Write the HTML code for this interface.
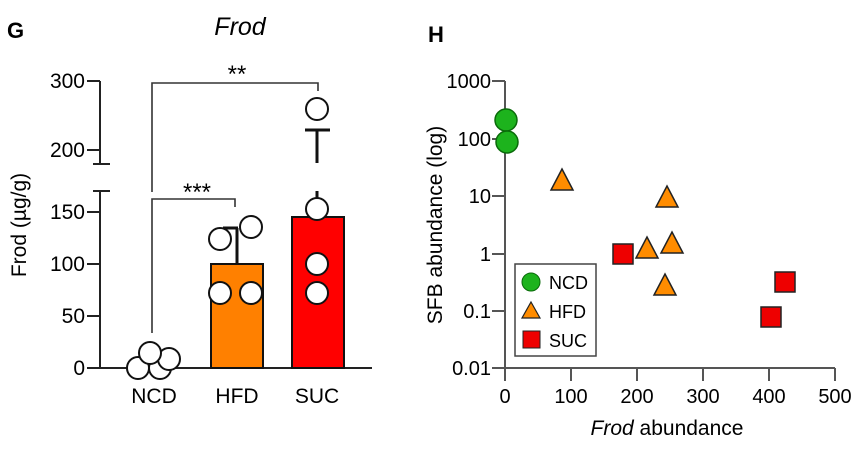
<!DOCTYPE html>
<html><head><meta charset="utf-8"><style>
html,body{margin:0;padding:0;background:#fff;}
svg{display:block;font-family:"Liberation Sans",Arial,sans-serif;}
</style></head><body>
<svg width="864" height="449" viewBox="0 0 864 449" xmlns="http://www.w3.org/2000/svg">
<!-- Panel G -->
<text x="7" y="38" font-size="22" font-weight="bold">G</text>
<text x="240" y="35" font-size="25" font-style="italic" text-anchor="middle">Frod</text>
<text transform="translate(26,225) rotate(-90)" font-size="21" text-anchor="middle">Frod (µg/g)</text>
<g stroke="#222" stroke-width="2" fill="none">
<path d="M100 81V164M100 191V368M100 368H372"/>
<path d="M87 81H100M87 150H100M87 212H100M87 264H100M87 316H100M87 368H100"/>
<path d="M93 164H110M93 191H110"/>
</g>
<g font-size="21" text-anchor="end">
<text x="85" y="88">300</text><text x="85" y="157">200</text><text x="85" y="219">150</text>
<text x="85" y="271">100</text><text x="85" y="323">50</text><text x="85" y="375">0</text>
</g>
<g font-size="21" text-anchor="middle">
<text x="154" y="403">NCD</text><text x="237" y="403">HFD</text><text x="317" y="403">SUC</text>
</g>
<rect x="211" y="264" width="52" height="104" fill="#ff8000" stroke="#111" stroke-width="2"/>
<rect x="292" y="217" width="52" height="151" fill="#ff0000" stroke="#111" stroke-width="2"/>
<g stroke="#111" stroke-width="3" fill="none">
<path d="M237 264V228M223 228H238"/>
<path d="M317 217V191M317 163V130M305 130H330"/>
</g>
<g stroke="#333" stroke-width="1.6" fill="none">
<path d="M152 192V83H318V91"/>
<path d="M152 333V199H235V207"/>
</g>
<text x="237" y="82" font-size="24" text-anchor="middle">**</text>
<text x="197" y="200" font-size="24" text-anchor="middle">***</text>
<g fill="#fff" stroke="#111" stroke-width="2">
<circle cx="138" cy="368" r="11"/><circle cx="160" cy="368" r="11"/><circle cx="169" cy="359" r="11"/><circle cx="150" cy="353" r="11"/>
<circle cx="220" cy="239" r="11"/><circle cx="251" cy="227" r="11"/><circle cx="220" cy="293" r="11"/><circle cx="251" cy="293" r="11"/>
<circle cx="317" cy="109" r="11"/><circle cx="317" cy="209" r="11"/><circle cx="317" cy="264" r="11"/><circle cx="317" cy="293" r="11"/>
</g>
<!-- Panel H -->
<text x="428" y="42" font-size="22" font-weight="bold">H</text>
<text transform="translate(442,225) rotate(-90)" font-size="21" text-anchor="middle">SFB abundance (log)</text>
<g stroke="#555" stroke-width="2" fill="none">
<path d="M505 81V368H835"/>
<path d="M492 81H505M492 139H505M492 196H505M492 254H505M492 311H505M492 368H505"/>
<path d="M505 368V381M571 368V381M637 368V381M703 368V381M769 368V381M835 368V381"/>
</g>
<g font-size="20" text-anchor="end">
<text x="491" y="88">1000</text><text x="491" y="146">100</text><text x="491" y="203">10</text>
<text x="491" y="261">1</text><text x="491" y="318">0.1</text><text x="491" y="375">0.01</text>
</g>
<g font-size="20" text-anchor="middle">
<text x="505" y="403">0</text><text x="571" y="403">100</text><text x="637" y="403">200</text>
<text x="703" y="403">300</text><text x="769" y="403">400</text><text x="835" y="403">500</text>
</g>
<text x="667" y="435" font-size="21" text-anchor="middle"><tspan font-style="italic">Frod</tspan> abundance</text>
<g fill="#1db31d" stroke="#0a6a0a" stroke-width="1.5">
<circle cx="506" cy="120" r="11"/><circle cx="507" cy="142" r="11"/>
</g>
<g fill="#ff8c00" stroke="#222" stroke-width="1.5">
<path d="M562 169L573 190H551Z"/><path d="M667 186L678 207H656Z"/>
<path d="M647 237L658 258H636Z"/><path d="M672 232L683 253H661Z"/><path d="M665 274L676 295H654Z"/>
</g>
<g fill="#ee0000" stroke="#222" stroke-width="1.5">
<rect x="613" y="244" width="20" height="20"/><rect x="761" y="307" width="20" height="20"/><rect x="775" y="272" width="20" height="20"/>
</g>
<rect x="515" y="264" width="81" height="92" fill="#fff" stroke="#444" stroke-width="1.5"/>
<circle cx="531" cy="282" r="9" fill="#1db31d" stroke="#0a6a0a" stroke-width="1"/>
<path d="M531 302L540 318H522Z" fill="#ff8c00" stroke="#222" stroke-width="1.2"/>
<rect x="523" y="331" width="17" height="17" fill="#ee0000" stroke="#222" stroke-width="1"/>
<g font-size="18"><text x="549" y="289">NCD</text><text x="549" y="318">HFD</text><text x="549" y="347">SUC</text></g>
</svg>
</body></html>
